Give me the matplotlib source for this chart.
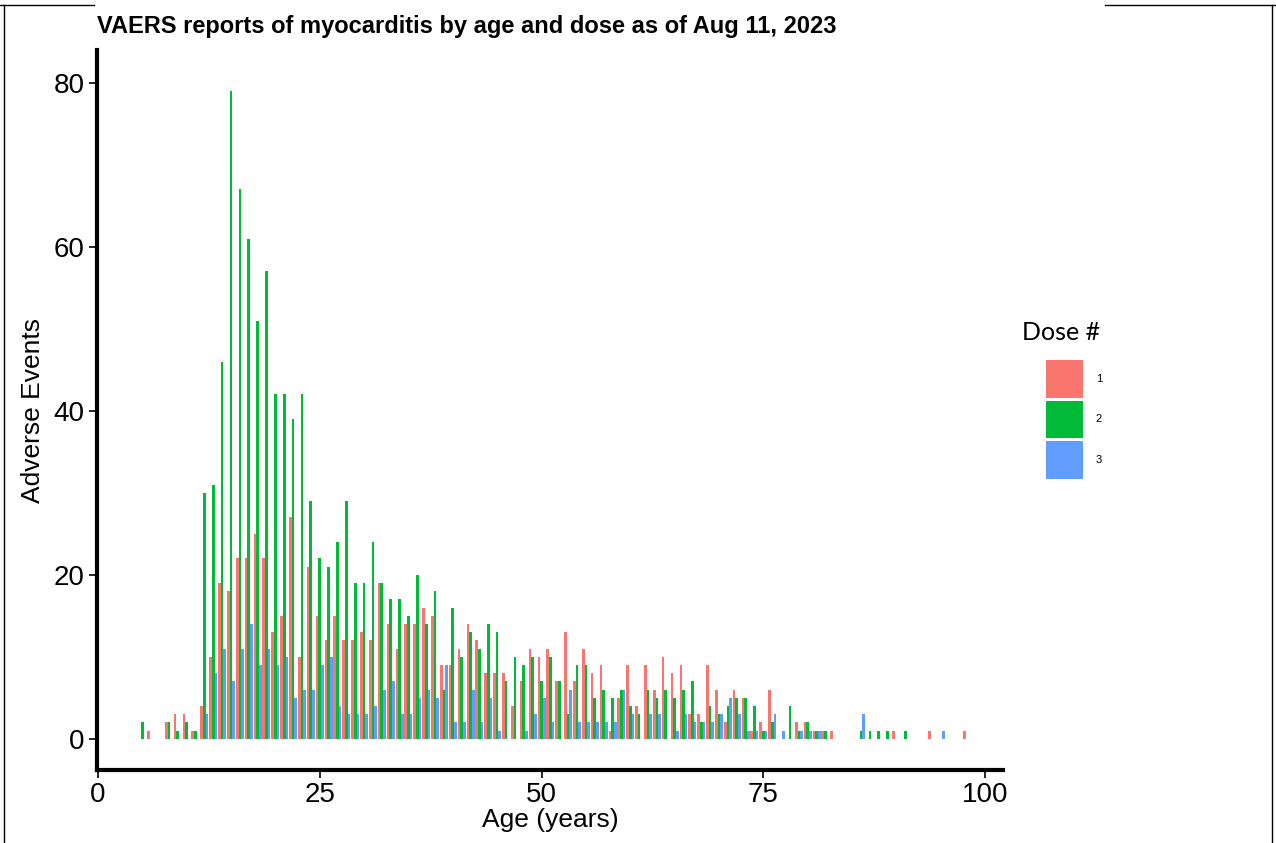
import numpy as np
import matplotlib
matplotlib.use('Agg')
import matplotlib.pyplot as plt
from matplotlib.patches import Patch

plt.rcParams['font.family'] = 'Liberation Sans'

# counts of reports per age, split by dose number
ages = list(range(5, 99))
dose1 = [0, 1, 0, 2, 3, 3, 1, 4, 10, 19, 18, 22, 22, 25, 22,
         13, 15, 27, 10, 21, 15, 12, 15, 12, 12, 13, 12, 19, 14, 11,
         14, 14, 16, 15, 9, 9, 11, 14, 12, 8, 8, 8, 4, 7, 11,
         10, 11, 7, 13, 7, 11, 8, 9, 1, 5, 9, 4, 9, 6, 10,
         8, 9, 3, 3, 9, 6, 2, 6, 5, 1, 2, 6, 0, 0, 2,
         2, 1, 1, 1, 0, 0, 0, 0, 0, 0, 1, 0, 0, 0, 1,
         0, 0, 0, 1]
dose2 = [2, 0, 0, 2, 1, 2, 1, 30, 31, 46, 79, 67, 61, 51, 57,
         42, 42, 39, 42, 29, 22, 21, 24, 29, 19, 19, 24, 19, 17, 17,
         15, 20, 14, 18, 6, 16, 10, 13, 11, 14, 13, 7, 10, 9, 10,
         7, 10, 7, 3, 9, 9, 5, 6, 5, 6, 4, 3, 6, 5, 6,
         5, 6, 7, 2, 4, 3, 4, 5, 5, 4, 1, 2, 0, 4, 1,
         2, 1, 1, 0, 0, 0, 1, 1, 1, 1, 0, 1, 0, 0, 0,
         0, 0, 0, 0]
dose3 = [0, 0, 0, 0, 0, 0, 0, 3, 8, 11, 7, 11, 14, 9, 11,
         9, 10, 5, 6, 6, 9, 10, 4, 3, 3, 3, 4, 6, 7, 3,
         3, 5, 6, 5, 9, 2, 2, 6, 2, 5, 1, 0, 0, 1, 3,
         5, 2, 0, 6, 2, 2, 2, 2, 2, 6, 3, 0, 3, 3, 0,
         1, 3, 2, 2, 2, 3, 5, 3, 1, 1, 1, 3, 1, 0, 1,
         1, 1, 0, 0, 0, 0, 3, 0, 0, 0, 0, 0, 0, 0, 0,
         1, 0, 0, 0]
dose_labels = ['1', '2', '3']
colors = ['#F8766D', '#00BA38', '#619CFF']

fig = plt.figure(figsize=(12.76, 8.43), dpi=100)
ax = fig.add_axes([0.076, 0.0866, 0.71, 0.854])

x = np.array(ages)
w = 0.3
for i, counts in enumerate([dose1, dose2, dose3]):
    counts = np.array(counts)
    keep = counts > 0
    ax.bar(x[keep] + (i - 1) * w, counts[keep], width=w,
           color=colors[i], linewidth=0)

ax.set_xlim(-0.1, 102)
ax.set_ylim(-3.8, 84)
ax.set_xticks([0, 25, 50, 75, 100])
ax.set_yticks([0, 20, 40, 60, 80])
ax.tick_params(labelsize=20, length=6, width=1.2, colors='black', pad=3)
for s in ['top', 'right']:
    ax.spines[s].set_visible(False)
for s in ['left', 'bottom']:
    ax.spines[s].set_linewidth(3)

ax.set_xlabel('Age (years)', fontsize=19, labelpad=0)
ax.set_ylabel('Adverse Events', fontsize=19, labelpad=6)
fig.text(0.076, 0.968, 'VAERS reports of myocarditis by age and dose as of Aug 11, 2023',
         fontsize=17, fontweight='bold', ha='left', va='center')

# legend keys, with the title placed on its own above them
handles = [Patch(facecolor=c, edgecolor='none') for c in colors]
fig.legend(handles, dose_labels, loc='upper left',
           bbox_to_anchor=(0.8197, 0.573), frameon=False,
           borderpad=0, borderaxespad=0,
           fontsize=8, handlelength=3.33,
           handleheight=4.85, labelspacing=0.27, handletextpad=1.15)
fig.text(0.8315, 0.605, 'Dose #', fontsize=18, family='Lato',
         ha='center', va='center')

# thin outer frame
frame = dict(color='black', lw=1)
fig.add_artist(plt.Line2D([0.003, 0.003], [0, 0.994], **frame))
fig.add_artist(plt.Line2D([0.997, 0.997], [0, 0.994], **frame))
fig.add_artist(plt.Line2D([0, 0.074], [0.994, 0.994], **frame))
fig.add_artist(plt.Line2D([0.866, 1], [0.994, 0.994], **frame))

fig.savefig('out.png', dpi=100)
